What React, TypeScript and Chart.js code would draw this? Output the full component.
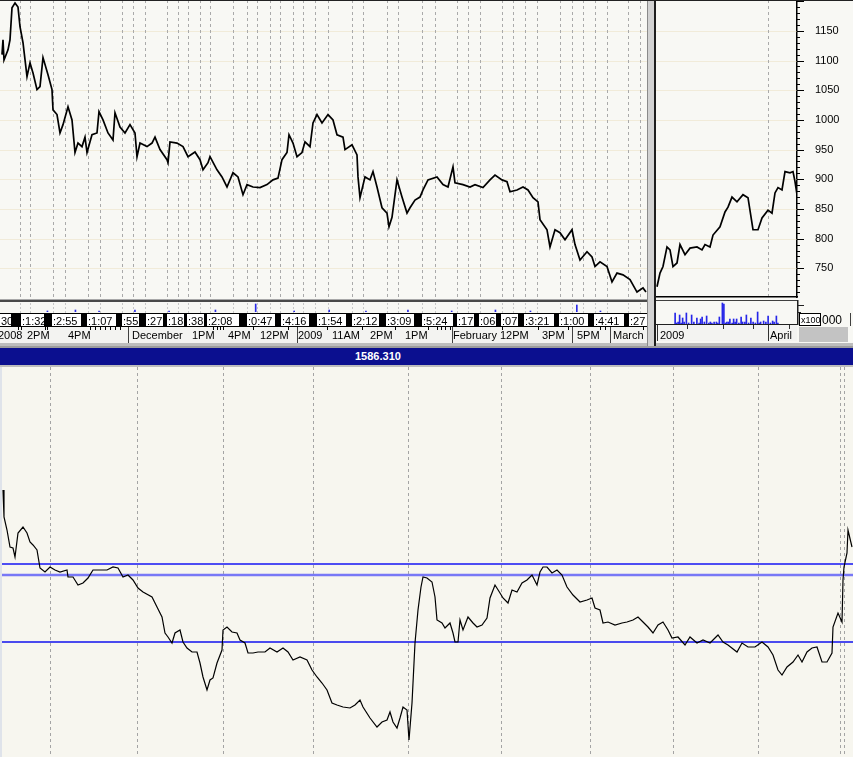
import React, { useEffect, useRef } from "react";
import { Chart, registerables } from "chart.js";

Chart.register(...registerables);

const FONT = '"Liberation Sans", Arial, Helvetica, sans-serif';

// ---------- top-left price panel (x = session time index, y = price) ----------
const mainTime = [
  2, 3, 4, 8, 10, 12, 15, 18, 20, 23,
  27, 30, 33, 37, 40, 43, 48, 52, 53, 57,
  60, 63, 68, 72, 75, 78, 82, 85, 87, 92,
  97, 99, 103, 108, 113, 115, 120, 125, 130, 135,
  137, 140, 147, 152, 155, 160, 167, 168, 170, 177,
  183, 188, 195, 200, 203, 208, 210, 217, 222, 227,
  233, 238, 243, 247, 253, 260, 267, 273, 278, 282,
  287, 289, 293, 297, 302, 305, 310, 313, 317, 322,
  328, 333, 337, 343, 345, 352, 357, 358, 360, 365,
  370, 373, 377, 382, 387, 389, 392, 397, 402, 407,
  410, 415, 420, 423, 428, 437, 443, 448, 453, 455,
  463, 470, 475, 483, 490, 495, 502, 507, 510, 517,
  523, 528, 533, 538, 540, 547, 550, 555, 560, 565,
  572, 575, 580, 587, 592, 595, 600, 607, 612, 617,
  623, 630, 637, 643, 646,
];
const mainPrice = [
  1110, 1135, 1101, 1118, 1135, 1189, 1197, 1190, 1157, 1130,
  1073, 1096, 1079, 1051, 1056, 1105, 1076, 1051, 1017, 1009,
  978, 992, 1022, 1000, 945, 961, 955, 971, 945, 975,
  978, 1014, 1000, 978, 966, 1012, 988, 978, 992, 978,
  938, 961, 955, 961, 971, 950, 933, 928, 963, 961,
  955, 938, 946, 933, 916, 928, 938, 916, 904, 887,
  911, 904, 874, 891, 887, 886, 891, 899, 902, 933,
  945, 975, 961, 938, 945, 963, 955, 995, 1009, 995,
  1009, 1000, 975, 971, 950, 958, 941, 904, 869, 904,
  899, 913, 887, 852, 843, 820, 836, 899, 870, 843,
  852, 865, 870, 882, 899, 904, 891, 887, 921, 894,
  891, 887, 891, 886, 899, 907, 899, 896, 879, 882,
  887, 882, 869, 862, 832, 815, 786, 815, 810, 798,
  815, 790, 764, 778, 769, 753, 761, 753, 727, 742,
  739, 731, 710, 717, 710,
];
const mainGridTimes = [
  20, 30, 53, 65, 88, 100, 122, 133, 145, 167, 178, 188, 200, 210, 233, 247,
  257, 270, 280, 293, 303, 315, 328, 352, 363, 387, 398, 422, 435, 457, 468,
  480, 502, 513, 525, 537, 560, 572, 583, 595, 607, 628, 640,
];
const mainVolTime = [8, 40, 67, 108, 147, 200, 246, 290, 330, 372, 420, 470, 520, 560, 613, 640];
const mainVolume = [1, 2, 1, 2, 1, 2, 8, 1, 2, 1, 2, 1, 2, 1, 7, 1];

// session time labels (boxed row)
const sessionLabels = [
  "30", ":1:32", ":2:55", ":1:07", ":55", ":27", ":18", ":38", ":2:08", ":0:47", ":4:16",
  ":1:54", ":2:12", ":3:09", ":5:24", ":17", ":06", ":07", ":3:21", ":1:00", ":4:41", ":27",
];
const sessionStart = [0, 21, 52, 87, 122, 146, 167, 187, 207, 247, 281, 317, 352, 386, 422, 457, 479, 501, 524, 559, 594, 629];
const sessionEnd = [11, 44, 81, 116, 139, 163, 184, 204, 239, 275, 309, 346, 379, 414, 453, 474, 496, 518, 554, 588, 624, 647];
// date labels row
const dateLabels = ["2008", "2PM", "4PM", "December", "1PM", "4PM", "12PM", "2009", "11AM", "2PM", "1PM", "February", "12PM", "3PM", "5PM", "March"];
const dateTimes = [-2, 27, 68, 132, 192, 228, 260, 298, 332, 370, 405, 453, 500, 542, 577, 613];
const dateSeparators = [128, 297, 452, 572, 610];
const minorTimeTicks = [18, 21, 45, 47, 90, 95, 100, 105, 110, 115, 120, 213, 217, 220, 223, 253, 288, 327, 362, 395, 428, 437, 441, 445, 450, 502, 538, 568, 600, 605, 610, 643];

// ---------- top-right (continuation) panel ----------
const miniTime = [
  1, 4, 7, 11, 14, 17, 21, 24, 29, 34,
  41, 46, 49, 54, 57, 64, 69, 72, 76, 81,
  87, 92, 97, 102, 106, 112, 116, 119, 122, 126,
  129, 134, 137, 139, 141,
];
const miniPrice = [
  719, 742, 753, 786, 781, 753, 759, 790, 773, 784,
  786, 781, 790, 786, 806, 820, 845, 853, 870, 862,
  874, 869, 815, 815, 835, 848, 843, 877, 886, 882,
  913, 911, 913, 896, 874,
];
const priceTicks = [750, 800, 850, 900, 950, 1000, 1050, 1100, 1150];
const miniGridTimes = [112];
const miniVolTime = [
  2, 4, 6, 8, 10, 12, 14, 17, 20, 24, 27, 31, 34, 36, 38, 41, 44, 47, 49, 51,
  54, 57, 59, 61, 65, 67, 69, 71, 73, 75, 78, 80, 82, 84, 87, 90, 92, 95, 97, 100,
  103, 106, 109, 112, 114, 116, 120, 123, 126, 129, 132, 134, 137, 139,
];
const miniVolume = [
  11, 1, 2, 9, 1, 6, 2, 11, 1, 9, 2, 6, 1, 5, 7, 2, 8, 1, 2, 1,
  2, 2, 1, 7, 21, 20, 1, 2, 2, 5, 1, 5, 2, 5, 1, 7, 2, 2, 9, 1,
  6, 2, 1, 12, 1, 2, 3, 2, 8, 1, 3, 2, 8, 1,
];
const miniDateLabels = ["2009", "April"];
const miniDateTimes = [4, 114];
const miniDateSeparators = [1, 112];
const miniMinorTicks = [31, 67, 97, 133];

// ---------- lower panel ----------
const headerValue = "1586.310";
const oscTime = [
  3, 4, 7, 10, 13, 15, 18, 23, 27, 30,
  33, 37, 40, 45, 50, 55, 60, 67, 68, 73,
  78, 83, 88, 93, 100, 107, 113, 118, 123, 128,
  133, 138, 143, 152, 157, 162, 165, 168, 172, 175,
  180, 183, 187, 192, 197, 200, 203, 207, 210, 213,
  217, 222, 223, 227, 232, 237, 240, 245, 248, 253,
  258, 265, 270, 277, 283, 288, 293, 300, 307, 312,
  317, 322, 327, 332, 337, 343, 350, 355, 360, 363,
  370, 377, 382, 387, 390, 393, 397, 400, 403, 407,
  409, 412, 415, 418, 421, 423, 427, 432, 435, 437,
  442, 445, 450, 453, 455, 458, 460, 463, 468, 473,
  477, 482, 487, 490, 495, 500, 503, 508, 512, 517,
  522, 527, 532, 537, 540, 543, 547, 552, 557, 562,
  567, 573, 580, 587, 592, 595, 600, 603, 608, 615,
  622, 627, 633, 638, 643, 648, 653, 658, 663, 668,
  672, 678, 685, 690, 697, 703, 710, 718, 723, 728,
  737, 742, 748, 755, 762, 768, 773, 778, 782, 787,
  793, 798, 802, 807, 812, 817, 822, 827, 832, 833,
  838, 842, 843, 844, 847, 848, 852,
];
const oscValue = [
  267, 240, 227, 210, 209, 200, 224, 230, 224, 215,
  212, 207, 189, 185, 190, 187, 185, 187, 180, 180,
  172, 174, 179, 187, 187, 187, 190, 189, 180, 182,
  177, 169, 165, 160, 150, 140, 124, 120, 114, 124,
  127, 115, 109, 105, 105, 94, 80, 67, 77, 79,
  94, 107, 127, 130, 125, 124, 117, 114, 104, 104,
  105, 105, 109, 105, 109, 105, 97, 100, 97, 87,
  80, 74, 67, 54, 52, 50, 49, 52, 57, 50,
  39, 30, 35, 37, 45, 35, 29, 39, 50, 47,
  17, 54, 114, 147, 170, 180, 179, 175, 160, 137,
  134, 129, 134, 124, 115, 115, 137, 127, 140, 134,
  130, 132, 139, 159, 172, 164, 159, 154, 167, 165,
  174, 177, 182, 172, 185, 190, 190, 184, 187, 182,
  170, 162, 155, 157, 159, 149, 147, 134, 135, 132,
  134, 135, 137, 140, 135, 130, 124, 132, 135, 127,
  119, 120, 112, 120, 114, 117, 114, 122, 115, 112,
  105, 114, 110, 110, 115, 110, 102, 87, 82, 90,
  95, 102, 95, 105, 109, 110, 95, 95, 104, 130,
  144, 135, 177, 190, 204, 227, 210,
];
const levelValues = [193, 182, 115];
const levelColors = ["#1414f4", "#7878f6", "#1010ee"];
const levelWidths = [1.5, 2.6, 1.5];
const oscGridTimes = [50, 137, 223, 313, 408, 501, 590, 673, 758, 840, 844];

// ---------- helpers ----------
const baseOptions: any = {
  animation: false,
  responsive: false,
  devicePixelRatio: 1,
  events: [],
  plugins: { legend: { display: false }, tooltip: { enabled: false } },
};

function vGrid(id: string, times: number[], color: string, dash: number[]) {
  return {
    id,
    beforeDatasetsDraw(chart: any) {
      const { ctx, chartArea, scales } = chart;
      ctx.save();
      ctx.strokeStyle = color;
      ctx.lineWidth = 1;
      ctx.setLineDash(dash);
      times.forEach((t) => {
        const px = Math.round(scales.x.getPixelForValue(t)) + 0.5;
        ctx.beginPath();
        ctx.moveTo(px, chartArea.top);
        ctx.lineTo(px, chartArea.bottom);
        ctx.stroke();
      });
      ctx.restore();
    },
  };
}

function hFaint(id: string, values: number[]) {
  return {
    id,
    beforeDatasetsDraw(chart: any) {
      const { ctx, chartArea, scales } = chart;
      ctx.save();
      ctx.strokeStyle = "rgba(232,220,185,0.45)";
      ctx.lineWidth = 1;
      values.forEach((v) => {
        const py = Math.round(scales.y.getPixelForValue(v)) + 0.5;
        ctx.beginPath();
        ctx.moveTo(chartArea.left, py);
        ctx.lineTo(chartArea.right, py);
        ctx.stroke();
      });
      ctx.restore();
    },
  };
}

const mainStrip = {
  id: "mainStrip",
  afterDraw(chart: any) {
    const { ctx, chartArea, scales } = chart;
    const x = scales.x;
    const W = chart.width;
    const b = chartArea.bottom;
    ctx.save();
    ctx.fillStyle = "#f8f8f4";
    ctx.fillRect(0, b, W, 48);
    ctx.strokeStyle = "#c8c8c8";
    ctx.lineWidth = 1;
    ctx.setLineDash([2, 2]);
    mainGridTimes.forEach((t) => {
      const px = Math.round(x.getPixelForValue(t)) + 0.5;
      ctx.beginPath();
      ctx.moveTo(px, b + 5);
      ctx.lineTo(px, b + 15);
      ctx.stroke();
    });
    ctx.setLineDash([]);
    ctx.fillStyle = "#a8a8a8";
    ctx.fillRect(0, b + 1, W, 1);
    ctx.fillStyle = "#4a4a4a";
    ctx.fillRect(0, b + 2, W, 2);
    // boxed session row
    ctx.fillStyle = "#000";
    ctx.fillRect(0, b + 15, W, 14);
    ctx.font = `11px ${FONT}`;
    ctx.textBaseline = "alphabetic";
    ctx.textAlign = "left";
    sessionLabels.forEach((s, i) => {
      const l = Math.round(x.getPixelForValue(sessionStart[i]));
      const r = Math.round(x.getPixelForValue(sessionEnd[i]));
      ctx.fillStyle = "#fff";
      ctx.fillRect(l, b + 16, r - l, 12);
      ctx.fillStyle = "#000";
      ctx.fillText(s, l + 1, b + 27);
    });
    // date row
    ctx.fillStyle = "#f3f3f1";
    ctx.fillRect(0, b + 29, W, 16);
    ctx.fillStyle = "#000";
    minorTimeTicks.forEach((t) => {
      ctx.fillRect(Math.round(x.getPixelForValue(t)), b + 29, 1, 3);
    });
    ctx.fillStyle = "#404040";
    dateSeparators.forEach((t) => {
      ctx.fillRect(Math.round(x.getPixelForValue(t)), b + 29, 1, 16);
    });
    ctx.fillStyle = "#000";
    dateLabels.forEach((s, i) => {
      ctx.fillText(s, x.getPixelForValue(dateTimes[i]), b + 41);
    });
    ctx.fillStyle = "#bdbdbd";
    ctx.fillRect(0, b + 45, W, 3);
    ctx.restore();
  },
};

const miniDecor = {
  id: "miniDecor",
  afterDraw(chart: any) {
    const { ctx, chartArea, scales } = chart;
    const x = scales.x;
    const y = scales.y;
    const W = chart.width;
    const R = chartArea.right;
    const b = chartArea.bottom;
    ctx.save();
    // minor / major ticks on the price axis
    ctx.fillStyle = "#000";
    for (let v = 710; v <= 1200; v += 10) {
      const py = Math.round(y.getPixelForValue(v));
      ctx.fillRect(R, py, v % 50 === 0 ? 7 : 3, 1);
    }
    // strip below
    ctx.fillStyle = "#f8f8f4";
    ctx.fillRect(0, b, W, 48);
    ctx.fillStyle = "#000";
    ctx.fillRect(0, b - 2, R + 1, 1.5);
    ctx.fillStyle = "#404040";
    ctx.fillRect(0, b + 2, R, 1);
    ctx.fillStyle = "#202020";
    ctx.fillRect(0, b + 26, R, 1);
    ctx.fillRect(R, b + 2, 1.5, 25);
    ctx.fillRect(R, b + 7, 7, 1);
    ctx.fillRect(R, b + 14, 4, 1);
    ctx.fillStyle = "#f3f3f1";
    ctx.fillRect(0, b + 27, R, 16);
    ctx.fillStyle = "#303030";
    miniDateSeparators.forEach((t) => ctx.fillRect(Math.round(x.getPixelForValue(t)), b + 27, 1, 16));
    miniMinorTicks.forEach((t) => ctx.fillRect(Math.round(x.getPixelForValue(t)), b + 27, 1, 4));
    ctx.font = `11px ${FONT}`;
    ctx.fillStyle = "#000";
    ctx.textAlign = "left";
    miniDateLabels.forEach((s, i) => ctx.fillText(s, x.getPixelForValue(miniDateTimes[i]), b + 41));
    // multiplier box
    ctx.fillStyle = "#fff";
    ctx.fillRect(R + 2, b + 15, 21, 12);
    ctx.strokeStyle = "#000";
    ctx.lineWidth = 1;
    ctx.strokeRect(R + 2.5, b + 15.5, 21, 12);
    ctx.fillStyle = "#000";
    ctx.font = `9px ${FONT}`;
    ctx.fillText("x100", R + 4, b + 25);
    ctx.font = `12px ${FONT}`;
    ctx.fillText("000", R + 25, b + 26);
    ctx.fillStyle = "#c3c3c3";
    ctx.fillRect(R + 2, b + 29, 49, 15);
    ctx.fillStyle = "#404040";
    ctx.fillRect(W - 3, b + 15, 1, 13);
    ctx.fillStyle = "#bdbdbd";
    ctx.fillRect(0, b + 45, W, 3);
    ctx.restore();
  },
};

export default function App() {
  const mainRef = useRef<HTMLCanvasElement>(null);
  const mainVolRef = useRef<HTMLCanvasElement>(null);
  const miniRef = useRef<HTMLCanvasElement>(null);
  const miniVolRef = useRef<HTMLCanvasElement>(null);
  const oscRef = useRef<HTMLCanvasElement>(null);

  useEffect(() => {
    const charts: Chart[] = [];

    charts.push(
      new Chart(mainRef.current as HTMLCanvasElement, {
        type: "line",
        data: {
          datasets: [
            {
              data: mainTime.map((t, i) => ({ x: t, y: mainPrice[i] })),
              borderColor: "#000",
              borderWidth: 1.7,
              pointRadius: 0,
              tension: 0,
            },
          ],
        },
        options: {
          ...baseOptions,
          layout: { padding: { left: 0, right: 0, top: 0, bottom: 48 } },
          scales: {
            x: { type: "linear", display: false, min: 0, max: 647 },
            y: { type: "linear", display: false, min: 700, max: 1202 },
          },
        },
        plugins: [hFaint("mainH", priceTicks), vGrid("mainV", mainGridTimes, "#aaaaaa", [3, 3]), mainStrip],
      } as any)
    );

    charts.push(
      new Chart(mainVolRef.current as HTMLCanvasElement, {
        type: "bar",
        data: {
          datasets: [
            {
              data: mainVolTime.map((t, i) => ({ x: t, y: mainVolume[i] })),
              backgroundColor: "#2a2ae6",
              barThickness: 1,
            },
          ],
        },
        options: {
          ...baseOptions,
          layout: { padding: 0 },
          scales: {
            x: { type: "linear", display: false, min: 0, max: 647 },
            y: { type: "linear", display: false, min: 0, max: 10 },
          },
        },
      } as any)
    );

    charts.push(
      new Chart(miniRef.current as HTMLCanvasElement, {
        type: "line",
        data: {
          datasets: [
            {
              data: miniTime.map((t, i) => ({ x: t, y: miniPrice[i] })),
              borderColor: "#000",
              borderWidth: 1.7,
              pointRadius: 0,
              tension: 0,
            },
          ],
        },
        options: {
          ...baseOptions,
          layout: { padding: { left: 0, right: 0, top: 0, bottom: 48 } },
          scales: {
            x: { type: "linear", display: false, min: 0, max: 141 },
            y: {
              type: "linear",
              position: "right",
              min: 700,
              max: 1202,
              afterBuildTicks: (axis: any) => {
                axis.ticks = priceTicks.map((v) => ({ value: v }));
              },
              afterFit: (axis: any) => {
                axis.width = 56;
                axis.paddingTop = 0;
                axis.paddingBottom = 0;
              },
              grid: { display: false, drawTicks: false },
              border: { display: true, color: "#000", width: 1.5 },
              ticks: {
                padding: 18,
                color: "#000",
                font: { family: FONT, size: 11 },
                callback: (v: any) => String(v),
              },
            },
          },
        },
        plugins: [hFaint("miniH", priceTicks), vGrid("miniV", miniGridTimes, "#aaaaaa", [3, 3]), miniDecor],
      } as any)
    );

    charts.push(
      new Chart(miniVolRef.current as HTMLCanvasElement, {
        type: "bar",
        data: {
          datasets: [
            {
              data: miniVolTime.map((t, i) => ({ x: t, y: miniVolume[i] })),
              backgroundColor: "#2626e8",
              barThickness: 1,
            },
          ],
        },
        options: {
          ...baseOptions,
          layout: { padding: 0 },
          scales: {
            x: { type: "linear", display: false, min: 0, max: 141 },
            y: { type: "linear", display: false, min: 0, max: 23 },
          },
        },
      } as any)
    );

    charts.push(
      new Chart(oscRef.current as HTMLCanvasElement, {
        type: "line",
        data: {
          datasets: [
            {
              data: oscTime.map((t, i) => ({ x: t, y: oscValue[i] })),
              borderColor: "#000",
              borderWidth: 1.2,
              pointRadius: 0,
              tension: 0,
            },
            ...levelValues.map((v, i) => ({
              data: [
                { x: 0, y: v },
                { x: 853, y: v },
              ],
              borderColor: levelColors[i],
              borderWidth: levelWidths[i],
              pointRadius: 0,
            })),
          ],
        },
        options: {
          ...baseOptions,
          layout: { padding: 0 },
          scales: {
            x: { type: "linear", display: false, min: 0, max: 853 },
            y: { type: "linear", display: false, min: 0, max: 390 },
          },
        },
        plugins: [vGrid("oscV", oscGridTimes, "#a4a4a4", [3, 3])],
      } as any)
    );

    return () => charts.forEach((c) => c.destroy());
  }, []);

  const abs = (l: number, t: number, w: number, h: number, extra: any = {}) => ({
    position: "absolute" as const,
    left: l,
    top: t,
    width: w,
    height: h,
    ...extra,
  });

  return (
    <div style={abs(0, 0, 853, 757, { overflow: "hidden", background: "#f7f6ef", fontFamily: FONT })}>
      <div style={abs(0, 0, 853, 346, { background: "#f8f8f4" })} />
      <canvas ref={mainRef} width={647} height={346} style={abs(0, 0, 647, 346)} />
      <canvas ref={mainVolRef} width={647} height={10} style={abs(0, 302, 647, 10)} />
      <div
        style={abs(647, 0, 9, 346, {
          boxSizing: "border-box",
          background: "#d2d2d2",
          borderLeft: "1px solid #8a8a8a",
          borderRight: "2px solid #1e1e1e",
        })}
      />
      <canvas ref={miniRef} width={197} height={346} style={abs(656, 0, 197, 346)} />
      <canvas ref={miniVolRef} width={141} height={23} style={abs(656, 301, 141, 23)} />
      <div style={abs(0, 0, 853, 1, { background: "#222" })} />
      <div style={abs(0, 346, 853, 2, { background: "#9c9c9c" })} />
      <div style={abs(0, 348, 853, 17, { background: "#0b0f8f" })} />
      <div
        style={abs(355, 348, 80, 17, {
          color: "#fff",
          fontWeight: "bold",
          fontSize: 11,
          lineHeight: "17px",
          whiteSpace: "nowrap",
        })}
      >
        {headerValue}
      </div>
      <div style={abs(0, 365, 853, 2, { background: "#bdbdbd" })} />
      <canvas ref={oscRef} width={853} height={390} style={abs(0, 367, 853, 390)} />
      <div style={abs(0, 367, 2, 390, { background: "#dfe3ea" })} />
    </div>
  );
}
